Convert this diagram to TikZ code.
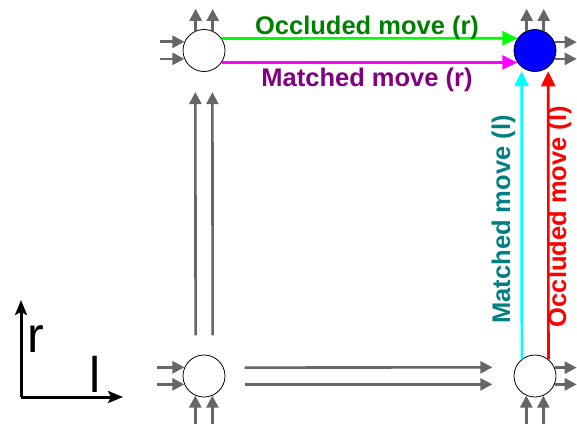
\documentclass[tikz,border=0pt]{standalone}
\usepackage{fontspec}
\setmainfont{Liberation Sans}
\usetikzlibrary{arrows.meta,calc}
\definecolor{stubgray}{RGB}{102,102,102}
\definecolor{occr}{RGB}{0,128,0}
\definecolor{matr}{RGB}{128,0,128}
\definecolor{matl}{RGB}{0,128,128}
\definecolor{pcyan}{RGB}{0,255,255}
\definecolor{pmagenta}{RGB}{255,0,255}
\definecolor{pgreen}{RGB}{0,255,0}
\definecolor{pred}{RGB}{255,0,0}
\definecolor{pblue}{RGB}{0,0,255}
\begin{document}
\begin{tikzpicture}[x=1pt,y=-1pt,
  state/.style={circle,draw=black,line width=0.8pt,minimum size=42pt,inner sep=0pt,fill=white},
  stub/.style={draw=stubgray,line width=2.6pt,-{Triangle[length=12pt,width=12pt]}},
  dbl/.style={draw=stubgray,line width=2.6pt,-{Triangle[length=12pt,width=12pt]}},
  move/.style={line width=2.6pt,-{Triangle[length=15pt,width=14pt]}},
  lbl/.style={font=\fontsize{25.5}{30}\selectfont\bfseries,inner sep=0pt,anchor=base},
  axisarrow/.style={line width=3pt,-{Stealth[length=15pt,width=12pt,inset=3pt]}},
  axlbl/.style={font=\fontsize{50}{60}\selectfont,inner sep=0pt,anchor=base}]
\useasboundingbox (0,0) rectangle (577,423);
% states
\node[state] (a) at (204,50.5) {};
\node[state,fill=pblue] (b) at (535,50.5) {};
\node[state] (c) at (204,376) {};
\node[state] (d) at (535,376) {};
% stub endpoints
\coordinate (a-l1) at ($(a.156.1)+(-24,0)$);
\coordinate (a-l2) at ($(a.203.9)+(-24,0)$);
\coordinate (a-u1) at ($(a.113.9)+(0,-22)$);
\coordinate (a-u2) at ($(a.66.1)+(0,-22)$);
\coordinate (b-u1) at ($(b.113.9)+(0,-22)$);
\coordinate (b-u2) at ($(b.66.1)+(0,-22)$);
\coordinate (b-r1) at ($(b.23.9)+(22,0)$);
\coordinate (b-r2) at ($(b.-23.9)+(22,0)$);
\coordinate (c-l1) at ($(c.156.1)+(-27,0)$);
\coordinate (c-l2) at ($(c.203.9)+(-27,0)$);
\coordinate (c-b1) at ($(c.246.1)+(0,28)$);
\coordinate (c-b2) at ($(c.293.9)+(0,28)$);
\coordinate (d-r1) at ($(d.23.9)+(22,0)$);
\coordinate (d-r2) at ($(d.-23.9)+(22,0)$);
\coordinate (d-b1) at ($(d.246.1)+(0,28)$);
\coordinate (d-b2) at ($(d.293.9)+(0,28)$);
% stubs
\draw[stub] (a-l1) -- (a.156.1);
\draw[stub] (a-l2) -- (a.203.9);
\draw[stub] (a.113.9) -- (a-u1);
\draw[stub] (a.66.1) -- (a-u2);
\draw[stub] (b.113.9) -- (b-u1);
\draw[stub] (b.66.1) -- (b-u2);
\draw[stub] (b.23.9) -- (b-r1);
\draw[stub] (b.-23.9) -- (b-r2);
\draw[stub] (c-l1) -- (c.156.1);
\draw[stub] (c-l2) -- (c.203.9);
\draw[stub] (c-b1) -- (c.246.1);
\draw[stub] (c-b2) -- (c.293.9);
\draw[stub] (d.23.9) -- (d-r1);
\draw[stub] (d.-23.9) -- (d-r2);
\draw[stub] (d-b1) -- (d.246.1);
\draw[stub] (d-b2) -- (d.293.9);
% double connectors
\draw[dbl,shorten <=21pt,shorten >=22pt] (c.113.9) -- (a.246.1);
\draw[dbl,shorten <=21pt,shorten >=22pt] (c.66.1) -- (a.293.9);
\draw[dbl,shorten <=21pt,shorten >=23pt] (c.23.9) -- (d.156.1);
\draw[dbl,shorten <=21pt,shorten >=23pt] (c.-23.9) -- (d.203.9);
% moves
\draw[move,pgreen] (a.34.85) -- (b.145.15);
\draw[move,pmagenta] (a.-34.85) -- (b.214.85);
\draw[move,pcyan,shorten >=4pt] (d.128.25) -- (b.231.75);
\draw[move,pred,shorten >=4pt] (d.51.75) -- (b.308.25);
% labels
\node[lbl,text=occr] (t1) at (367,34) {Occluded move (r)};
\node[lbl,text=matr] (t2) at (367,86) {Matched move (r)};
\node[lbl,text=matl,rotate=90] (t3) at (510,219.5) {Matched move (l)};
\node[lbl,text=pred,rotate=90] (t4) at (566,216.5) {Occluded move (l)};
% axes
\coordinate (o) at (21,397);
\coordinate (rt) at (21,300);
\coordinate (lt) at (123,397);
\draw[axisarrow] (o) -- (rt);
\draw[axisarrow] (o) -- (lt);
\node[axlbl] (rl) at (36,352) {r};
\node[axlbl] (ll) at (95.5,392) {l};
\end{tikzpicture}
\end{document}
